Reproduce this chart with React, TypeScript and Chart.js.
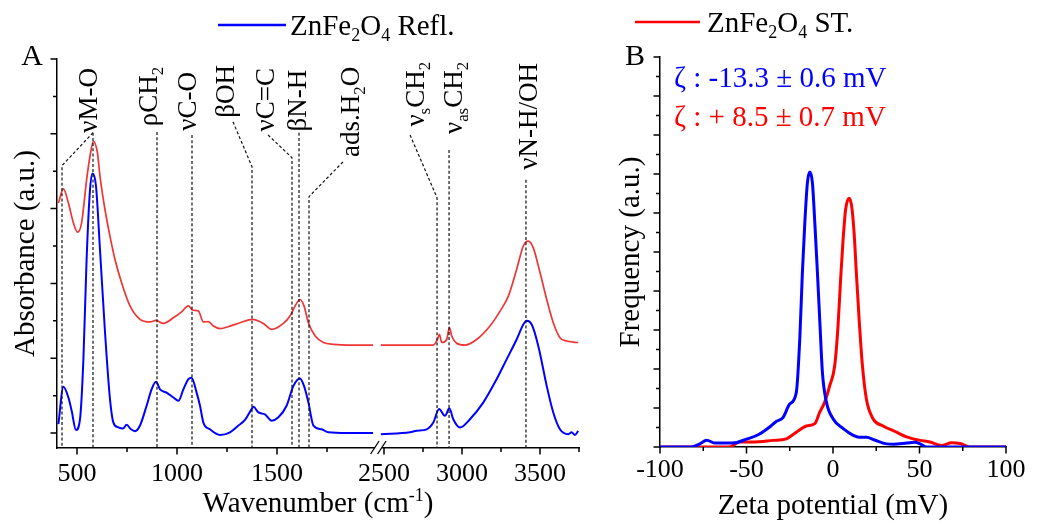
import { useEffect, useRef } from 'react';
import { Chart, registerables } from 'chart.js';

Chart.register(...registerables);

const SERIF = "'Liberation Serif', 'Times New Roman', Times, serif";
Chart.defaults.font.family = SERIF;
const BLUE = '#0000ff';
const RED = '#ff0000';
const RED_A = '#ef3535';

// ---------------- Panel A (FTIR) data ----------------
const reflWavenumber = [407, 432, 457, 473, 495, 515, 532, 548, 565, 578, 595, 615, 640, 665, 682, 707, 730, 748, 770, 790, 815, 848, 873, 895, 915, 948, 982, 1007, 1032, 1057, 1073, 1098, 1115, 1132, 1165, 1215, 1265, 1307, 1340, 1373, 1382, 1407, 1440, 1473, 1507, 1548, 1582, 1615, 1635, 1657, 1682, 1723, 1757, 1850, 1980,
  2480, 2667, 2709, 2774, 2816, 2853, 2891, 2919, 2944, 2987, 3051, 3137, 3222, 3286, 3350, 3393, 3415, 3447, 3489, 3543, 3585, 3628, 3681, 3703, 3724, 3745];
const reflAbsorbance = [0.24, 1.24, 0.95, 0.6, 0.08, 0.37, 1.97, 4.64, 6.5, 6.94, 6.6, 4.9, 2.7, 0.9, 0.28, 0.15, 0.12, 0.22, 0.1, 0.05, 0.2, 0.73, 1.17, 1.37, 1.17, 1.08, 0.95, 0.86, 1.17, 1.44, 1.48, 1.08, 0.73, 0.28, 0.1, -0.05, 0.02, 0.2, 0.35, 0.64, 0.7, 0.55, 0.5, 0.33, 0.42, 0.73, 1.26, 1.46, 1.26, 0.82, 0.2, 0.1, 0.02, 0.0, 0.0,
  -0.03, 0.02, 0.06, 0.1, 0.28, 0.64, 0.46, 0.66, 0.37, 0.15, 0.37, 0.82, 1.44, 1.97, 2.5, 2.9, 3.0, 2.9, 2.33, 1.26, 0.55, 0.1, -0.03, 0.02, -0.05, 0.06];

const stWavenumber = [407, 432, 457, 482, 503, 523, 548, 565, 582, 602, 615, 640, 665, 690, 723, 765, 815, 865, 895, 932, 982, 1023, 1057, 1078, 1107, 1132, 1157, 1182, 1215, 1265, 1315, 1378, 1432, 1473, 1532, 1565, 1595, 1615, 1635, 1657, 1690, 1732, 1782, 1880, 1980,
  2480, 2816, 2842, 2855, 2870, 2902, 2919, 2934, 2966, 3019, 3094, 3179, 3244, 3297, 3350, 3393, 3425, 3457, 3500, 3543, 3585, 3628, 3671, 3700, 3735, 3745];
const stAbsorbance = [6.15, 6.53, 6.15, 5.62, 5.37, 5.62, 6.77, 7.4, 7.8, 7.5, 6.86, 5.97, 5.26, 4.64, 4.02, 3.4, 3.04, 2.97, 3.01, 2.93, 3.08, 3.24, 3.4, 3.29, 3.26, 2.97, 2.98, 2.86, 2.79, 2.86, 2.95, 3.04, 2.93, 2.77, 2.93, 3.13, 3.44, 3.57, 3.4, 2.95, 2.6, 2.42, 2.37, 2.35, 2.35,
  2.35, 2.35, 2.5, 2.64, 2.42, 2.5, 2.82, 2.6, 2.4, 2.35, 2.5, 2.86, 3.26, 3.66, 4.37, 5.0, 5.13, 4.95, 4.29, 3.57, 2.95, 2.55, 2.46, 2.44, 2.42, 2.42];

const ftirTickWn = [500, 750, 1000, 1250, 1500, 1750, 2500, 2750, 3000, 3250, 3500, 3750];
const ftirTickLabels = ['500', '', '1000', '', '1500', '', '2500', '', '3000', '', '3500', ''];
const absTickValues = [0, 1, 2, 3, 4, 5, 6, 7, 8, 9, 10];

// broken axis: 400-2000 | 2475-3750 (right part compressed)
const AXIS_START = 400;
const LEFT_END = 2000;
const RIGHT_REF = 2500;
const RIGHT_U0 = 1635;
const RIGHT_SCALE = 0.78;
const AXIS_END = 3750;
const toU = (wn: number) => (wn <= LEFT_END ? wn - AXIS_START : RIGHT_U0 + (wn - RIGHT_REF) * RIGHT_SCALE);
const BREAK_U = 1608;

type Run = [string, string?];
const ftirBands: { label: Run[]; x: number; top: number; leaders: number[][][] }[] = [
  { label: [['νM-O']], x: 555, top: 9.76, leaders: [[[580, 8.03]], [[580, 8.03], [425, 7.15]]] },
  { label: [['ρCH'], ['2', 'sub']], x: 855, top: 9.79, leaders: [[[900, 8.05]]] },
  { label: [['νC-O']], x: 1050, top: 9.65, leaders: [[[1075, 7.97]]] },
  { label: [['βOH']], x: 1240, top: 9.84, leaders: [[[1280, 8.32], [1375, 7.12]]] },
  { label: [['νC=C']], x: 1440, top: 9.76, leaders: [[[1455, 7.97], [1575, 7.36]]] },
  { label: [['βN-H']], x: 1600, top: 9.71, leaders: [[[1610, 8.03]]] },
  { label: [['ads.H'], ['2', 'sub'], ['O']], x: 1865, top: 9.79, leaders: [[[1830, 7.25], [1660, 6.32]]] },
  { label: [['ν'], ['s', 'sub'], ['CH'], ['2', 'sub']], x: 2699, top: 9.92, leaders: [[[2667, 7.97], [2840, 6.29]]] },
  { label: [['ν'], ['as', 'sub'], ['CH'], ['2', 'sub']], x: 2942, top: 9.92, leaders: [[[2917, 7.57]]] },
  { label: [['νN-H/OH']], x: 3423, top: 9.89, leaders: [[[3410, 6.77]]] },
];

// ---------------- Panel B (zeta) data ----------------
const zetaReflMv = [-100, -82, -77, -73, -68, -58, -50, -43, -37, -33, -29, -25, -21.2, -19.2, -17.7, -16.3, -14.8, -13.4, -11.9, -10.5, -9.0, -7.6, -6.1, -3.8, 0.1, 5.9, 11.7, 15, 19.4, 24, 31, 35, 42.6, 47.4, 50.3, 54.2, 100];
const zetaReflFreq = [0, 0, 0.08, 0.17, 0.1, 0.1, 0.2, 0.32, 0.5, 0.65, 0.75, 1.1, 1.4, 2.77, 4.47, 5.74, 6.77, 7.05, 6.77, 5.74, 4.47, 3.2, 1.9, 1.15, 0.72, 0.47, 0.3, 0.25, 0.25, 0.18, 0.08, 0.07, 0.1, 0.12, 0.08, 0, 0];
const zetaStMv = [-100, -59.8, -54, -46.3, -34.7, -27, -21.2, -15.4, -10.5, -7.6, -4.8, -1.9, 1.0, 2.9, 4.4, 5.8, 7.3, 9.3, 10.8, 12.2, 13.5, 15.1, 17, 19.3, 23.2, 29, 36.7, 42.5, 50.2, 56, 62.8, 68.6, 73.4, 79.2, 100];
const zetaStFreq = [0, 0, 0.13, 0.13, 0.17, 0.21, 0.38, 0.54, 0.6, 0.9, 1.15, 1.57, 2.09, 3.1, 4.3, 5.3, 6.09, 6.38, 6.17, 5.49, 4.47, 3.28, 2.09, 1.23, 0.72, 0.54, 0.38, 0.26, 0.17, 0.13, 0.04, 0.11, 0.09, 0, 0];

const zetaTickValues = [-100, -75, -50, -25, 0, 25, 50, 75, 100];
const zetaTickLabels = ['-100', '', '-50', '', '0', '', '50', '', '100'];
const freqTickValues = [0, 0.5, 1, 1.5, 2, 2.5, 3, 3.5, 4, 4.5, 5, 5.5, 6, 6.5, 7, 7.5, 8, 8.5, 9, 9.5, 10];

const zetaNotes: { runs: Run[]; x: number; y: number; color: string }[] = [
  { runs: [['ζ : -13.3 ± 0.6 mV']], x: -91.9, y: 9.23, color: BLUE },
  { runs: [['ζ : + 8.5 ± 0.7 mV']], x: -91.9, y: 8.23, color: RED },
];

// ---------------- helpers ----------------
function drawRich(ctx: CanvasRenderingContext2D, runs: Run[], x: number, y: number, size: number, color: string, align: string, rotated: boolean) {
  ctx.save();
  ctx.translate(x, y);
  if (rotated) ctx.rotate(-Math.PI / 2);
  const parts = runs.map(([t, k]) => {
    const s = k ? size * 0.62 : size;
    ctx.font = `${s}px ${SERIF}`;
    return { t, k, s, w: ctx.measureText(t).width };
  });
  const total = parts.reduce((a, p) => a + p.w, 0);
  let cx = align === 'left' ? 0 : align === 'right' ? -total : -total / 2;
  const base = rotated ? size * 0.33 : 0;
  ctx.fillStyle = color;
  ctx.textBaseline = 'alphabetic';
  ctx.textAlign = 'left';
  for (const p of parts) {
    ctx.font = `${p.s}px ${SERIF}`;
    const dy = p.k === 'sub' ? size * 0.22 : p.k === 'sup' ? -size * 0.38 : 0;
    ctx.fillText(p.t, cx, base + dy);
    cx += p.w;
  }
  ctx.restore();
}

function drawTicks(chart: any, xVals: number[], xMajor: boolean[], yVals: number[], yMajor: boolean[]) {
  const { ctx, chartArea, scales } = chart;
  ctx.save();
  ctx.strokeStyle = '#000';
  ctx.lineWidth = 1.5;
  ctx.beginPath();
  xVals.forEach((v, i) => {
    const px = scales.x.getPixelForValue(v);
    ctx.moveTo(px, chartArea.bottom);
    ctx.lineTo(px, chartArea.bottom + (xMajor[i] ? 6.5 : 4));
  });
  yVals.forEach((v, i) => {
    const py = scales.y.getPixelForValue(v);
    ctx.moveTo(chartArea.left, py);
    ctx.lineTo(chartArea.left - (yMajor[i] ? 6.5 : 4), py);
  });
  ctx.stroke();
  ctx.restore();
}

function ftirPoints(wn: number[], ab: number[]) {
  const pts: { x: number; y: number | null }[] = [];
  for (let i = 0; i < wn.length; i++) {
    if (i > 0 && wn[i - 1] <= LEFT_END && wn[i] > LEFT_END) {
      pts.push({ x: (toU(wn[i - 1]) + toU(wn[i])) / 2, y: null });
    }
    pts.push({ x: toU(wn[i]), y: ab[i] });
  }
  return pts;
}

const xyPoints = (xs: number[], ys: number[]) => xs.map((x, i) => ({ x, y: ys[i] }));

const ftirPlugin = {
  id: 'ftirDecor',
  afterDraw(chart: any) {
    const { ctx, chartArea, scales } = chart;
    const xs = scales.x;
    const ys = scales.y;
    drawTicks(chart, ftirTickWn.map(toU), ftirTickLabels.map((l) => l !== ''), absTickValues, absTickValues.map((v) => v % 2 === 0));

    // axis break
    const bx = xs.getPixelForValue(BREAK_U);
    const by = chartArea.bottom;
    ctx.save();
    ctx.fillStyle = '#fff';
    ctx.fillRect(bx - 3.5, by - 2, 7, 4);
    ctx.strokeStyle = '#000';
    ctx.lineWidth = 1.3;
    ctx.beginPath();
    ctx.moveTo(bx - 8, by + 6);
    ctx.lineTo(bx + 0.5, by - 7);
    ctx.moveTo(bx - 1, by + 6);
    ctx.lineTo(bx + 7.5, by - 7);
    ctx.stroke();
    ctx.restore();

    // band annotations
    ctx.save();
    ctx.strokeStyle = '#111';
    ctx.lineWidth = 1.2;
    ctx.setLineDash([3, 2.2]);
    for (const b of ftirBands) {
      for (const leader of b.leaders) {
        const pts = leader.map(([w, v]) => [xs.getPixelForValue(toU(w)), ys.getPixelForValue(v)]);
        pts.push([pts[pts.length - 1][0], chartArea.bottom]);
        ctx.beginPath();
        pts.forEach(([px, py], i) => (i === 0 ? ctx.moveTo(px, py) : ctx.lineTo(px, py)));
        ctx.stroke();
      }
    }
    ctx.restore();
    for (const b of ftirBands) {
      drawRich(ctx, b.label, xs.getPixelForValue(toU(b.x)), ys.getPixelForValue(b.top), 27, '#000', 'right', true);
    }

    // panel letter, legend, x title
    drawRich(ctx, [['A']], 32, 65, 30, '#000', 'center', false);
    ctx.save();
    ctx.strokeStyle = BLUE;
    ctx.lineWidth = 2.5;
    ctx.beginPath();
    ctx.moveTo(218, 25);
    ctx.lineTo(286, 25);
    ctx.stroke();
    ctx.restore();
    drawRich(ctx, [['ZnFe'], ['2', 'sub'], ['O'], ['4', 'sub'], [' Refl.']], 290, 35, 29, '#000', 'left', false);
    drawRich(ctx, [['Wavenumber (cm'], ['-1', 'sup'], [')']], (chartArea.left + chartArea.right) / 2, 512, 29, '#000', 'center', false);
  },
};

const zetaPlugin = {
  id: 'zetaDecor',
  afterDraw(chart: any) {
    const { ctx, scales } = chart;
    drawTicks(chart, zetaTickValues, zetaTickLabels.map((l) => l !== ''), freqTickValues, freqTickValues.map((v) => Number.isInteger(v)));
    for (const n of zetaNotes) {
      drawRich(ctx, n.runs, scales.x.getPixelForValue(n.x), scales.y.getPixelForValue(n.y), 29, n.color, 'left', false);
    }
    drawRich(ctx, [['B']], 35, 65, 30, '#000', 'center', false);
    ctx.save();
    ctx.strokeStyle = RED;
    ctx.lineWidth = 2.5;
    ctx.beginPath();
    ctx.moveTo(35, 22);
    ctx.lineTo(100, 22);
    ctx.stroke();
    ctx.restore();
    drawRich(ctx, [['ZnFe'], ['2', 'sub'], ['O'], ['4', 'sub'], [' ST.']], 107, 32, 29, '#000', 'left', false);
  },
};

const axisBorder = { display: true, color: '#000', width: 1.5 };
const noGrid = { display: false, drawTicks: false };

function makeFtirConfig(): any {
  return {
    type: 'line',
    data: {
      datasets: [
        { label: 'ZnFe2O4 ST.', data: ftirPoints(stWavenumber, stAbsorbance), borderColor: RED_A, borderWidth: 1.7, pointRadius: 0, cubicInterpolationMode: 'monotone', spanGaps: false },
        { label: 'ZnFe2O4 Refl.', data: ftirPoints(reflWavenumber, reflAbsorbance), borderColor: BLUE, borderWidth: 2, pointRadius: 0, cubicInterpolationMode: 'monotone', spanGaps: false },
      ],
    },
    options: {
      responsive: false,
      animation: false,
      devicePixelRatio: 1,
      events: [],
      layout: { padding: { top: 59, right: 21, left: 0, bottom: 0 } },
      plugins: { legend: { display: false }, tooltip: { enabled: false } },
      scales: {
        x: {
          type: 'linear',
          min: 0,
          max: toU(AXIS_END),
          afterBuildTicks: (s: any) => { s.ticks = ftirTickWn.map((w) => ({ value: toU(w) })); },
          afterFit: (s: any) => { s.height = 78; },
          ticks: { autoSkip: false, maxRotation: 0, minRotation: 0, padding: 10.4, color: '#000', font: { family: SERIF, size: 26 }, callback: (_v: any, i: number) => ftirTickLabels[i] },
          grid: noGrid,
          border: axisBorder,
        },
        y: {
          type: 'linear',
          min: -0.4,
          max: 10,
          afterFit: (s: any) => { s.width = 57; },
          ticks: { display: false },
          grid: noGrid,
          border: axisBorder,
          title: { display: true, text: 'Absorbance (a.u.)', color: '#000', font: { family: SERIF, size: 29 }, padding: { top: 9, bottom: 0 } },
        },
      },
    },
    plugins: [ftirPlugin],
  };
}

function makeZetaConfig(): any {
  return {
    type: 'line',
    data: {
      datasets: [
        { label: 'ZnFe2O4 Refl.', data: xyPoints(zetaReflMv, zetaReflFreq), borderColor: BLUE, borderWidth: 3, pointRadius: 0, cubicInterpolationMode: 'monotone' },
        { label: 'ZnFe2O4 ST.', data: xyPoints(zetaStMv, zetaStFreq), borderColor: RED, borderWidth: 3, pointRadius: 0, cubicInterpolationMode: 'monotone' },
      ],
    },
    options: {
      responsive: false,
      animation: false,
      devicePixelRatio: 1,
      events: [],
      layout: { padding: { top: 57, right: 37, left: 0, bottom: 0 } },
      plugins: { legend: { display: false }, tooltip: { enabled: false } },
      scales: {
        x: {
          type: 'linear',
          min: -100,
          max: 100,
          afterBuildTicks: (s: any) => { s.ticks = zetaTickValues.map((v) => ({ value: v })); },
          afterFit: (s: any) => { s.height = 79; },
          ticks: { autoSkip: false, maxRotation: 0, minRotation: 0, padding: 7.4, color: '#000', font: { family: SERIF, size: 26 }, callback: (_v: any, i: number) => zetaTickLabels[i] },
          grid: noGrid,
          border: axisBorder,
          title: { display: true, text: 'Zeta potential (mV)', color: '#000', font: { family: SERIF, size: 29 }, padding: { top: 0, bottom: 2.5 } },
        },
        y: {
          type: 'linear',
          min: 0,
          max: 10,
          afterFit: (s: any) => { s.width = 60; },
          ticks: { display: false },
          grid: noGrid,
          border: axisBorder,
          title: { display: true, text: 'Frequency (a.u.)', color: '#000', font: { family: SERIF, size: 29 }, padding: { top: 13.6, bottom: 0 } },
        },
      },
    },
    plugins: [zetaPlugin],
  };
}

export default function App() {
  const refA = useRef<HTMLCanvasElement>(null);
  const refB = useRef<HTMLCanvasElement>(null);
  useEffect(() => {
    document.body.style.margin = '0';
    const a = new Chart(refA.current as HTMLCanvasElement, makeFtirConfig());
    const b = new Chart(refB.current as HTMLCanvasElement, makeZetaConfig());
    return () => {
      a.destroy();
      b.destroy();
    };
  }, []);
  return (
    <div style={{ position: 'absolute', left: 0, top: 0, width: 1043, height: 526, background: '#fff', overflow: 'hidden' }}>
      <canvas ref={refA} width={600} height={526} style={{ position: 'absolute', left: 0, top: 0, display: 'block' }} />
      <canvas ref={refB} width={443} height={526} style={{ position: 'absolute', left: 600, top: 0, display: 'block' }} />
    </div>
  );
}
